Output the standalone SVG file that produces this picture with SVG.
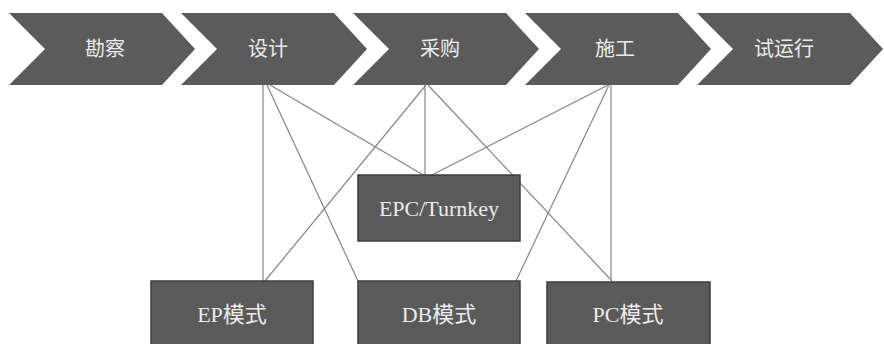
<svg xmlns="http://www.w3.org/2000/svg" width="884" height="344" viewBox="0 0 884 344">
<style>
.chev{fill:#5b5b5b}
.box{fill:#5a5a5a;stroke:#3e3e3e;stroke-width:1.5}
.t{fill:#ececec;font-family:"Liberation Serif","Noto Sans CJK SC",serif;text-anchor:middle}
.ct{font-size:20px}
.bt{font-size:22px}
.ln{stroke:#858585;stroke-width:1.2;fill:none}
</style>
<rect width="884" height="344" fill="#ffffff"/>
<g id="n-kancha">
<polygon class="chev" points="9,13 162,13 195,49 162,85 9,85 45,49"/>
<text class="t ct" x="105" y="56">勘察</text>
</g>
<g id="n-sheji">
<polygon class="chev" points="181,13 334,13 367,49 334,85 181,85 217,49"/>
<text class="t ct" x="268" y="56">设计</text>
</g>
<g id="n-caigou">
<polygon class="chev" points="353,13 506,13 539,49 506,85 353,85 389,49"/>
<text class="t ct" x="440" y="56">采购</text>
</g>
<g id="n-shigong">
<polygon class="chev" points="525,13 678,13 711,49 678,85 525,85 561,49"/>
<text class="t ct" x="615" y="56">施工</text>
</g>
<g id="n-shiyunxing">
<polygon class="chev" points="697,13 850,13 883,49 850,85 697,85 733,49"/>
<text class="t ct" x="784" y="56">试运行</text>
</g>
<g id="connectors">
<line class="ln" x1="263" y1="85" x2="263" y2="281"/>
<line class="ln" x1="267" y1="85" x2="358" y2="281"/>
<line class="ln" x1="270" y1="85" x2="425" y2="176"/>
<line class="ln" x1="426" y1="85" x2="265" y2="281"/>
<line class="ln" x1="425" y1="85" x2="425" y2="176"/>
<line class="ln" x1="428" y1="85" x2="612" y2="281"/>
<line class="ln" x1="608" y1="85" x2="430" y2="176"/>
<line class="ln" x1="609" y1="85" x2="516" y2="281"/>
<line class="ln" x1="611" y1="85" x2="611" y2="281"/>
</g>
<g id="n-epc">
<rect class="box" x="358" y="175" width="162" height="66"/>
<text class="t bt" x="439" y="216">EPC/Turnkey</text>
</g>
<g id="n-ep">
<rect class="box" x="151" y="281" width="162" height="70"/>
<text class="t bt" x="232" y="322">EP模式</text>
</g>
<g id="n-db">
<rect class="box" x="358" y="281" width="162" height="70"/>
<text class="t bt" x="439" y="322">DB模式</text>
</g>
<g id="n-pc">
<rect class="box" x="547" y="282" width="163" height="70"/>
<text class="t bt" x="628" y="322">PC模式</text>
</g>
</svg>
